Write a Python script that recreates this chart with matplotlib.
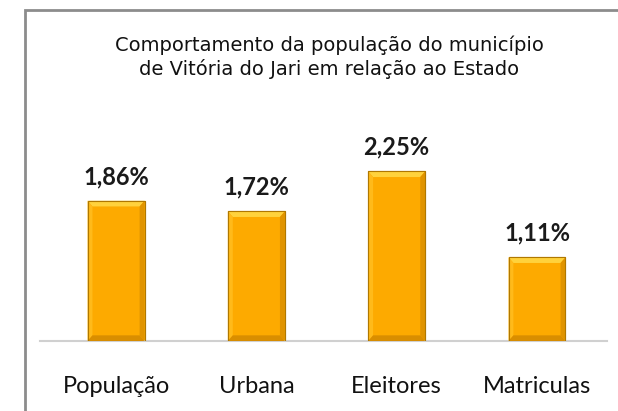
import matplotlib.pyplot as plt
from matplotlib.lines import Line2D
from matplotlib.patches import Polygon, Rectangle

categorias = ['População', 'Urbana', 'Eleitores', 'Matriculas']
valores = [1.86, 1.72, 2.25, 1.11]
rotulos = ['1,86%', '1,72%', '2,25%', '1,11%']
titulo = 'Comportamento da população do município\nde Vitória do Jari em relação ao Estado'

fig = plt.figure(figsize=(6.18, 4.11), dpi=100)
W, H = 618, 411

# moldura cinza (só aparecem os lados esquerdo e superior)
fx, fy = 24.5 / W, (H - 10) / H
fig.add_artist(Line2D([fx, fx, 1.05], [-0.05, fy, fy], transform=fig.transFigure,
                      color='#8c8c8c', linewidth=2.0, solid_joinstyle='miter'))

ax = fig.add_axes([40 / W, (H - 341) / H, 567 / W, 196 / H])
x = list(range(len(categorias)))
largura = 0.406
barras = ax.bar(x, valores, width=largura, color='#FDAA00',
                edgecolor='#C48500', linewidth=0.8, zorder=2)

ax.set_xlim(-0.542, 3.499)
ax.set_ylim(0, 2.6)

# bisel simples nas barras
bx = 0.035
by = 0.075
for b in barras:
    x0, w, h = b.get_x(), b.get_width(), b.get_height()
    x1 = x0 + w
    ax.add_patch(Polygon([(x0, h), (x1, h), (x1 - bx, h - by), (x0 + bx, h - by)],
                         closed=True, facecolor='#FFD23C', edgecolor='none', zorder=3))
    ax.add_patch(Polygon([(x0, 0), (x0 + bx, by), (x0 + bx, h - by), (x0, h)],
                         closed=True, facecolor='#FFBA1A', edgecolor='none', zorder=3))
    ax.add_patch(Polygon([(x1, 0), (x1 - bx, by), (x1 - bx, h - by), (x1, h)],
                         closed=True, facecolor='#E09400', edgecolor='none', zorder=3))
    ax.add_patch(Polygon([(x0, 0), (x1, 0), (x1 - bx, by), (x0 + bx, by)],
                         closed=True, facecolor='#D98E00', edgecolor='none', zorder=3))
    ax.add_patch(Rectangle((x0, 0), w, h, fill=False, edgecolor='#B07800',
                           linewidth=0.8, zorder=4))

for xi, v, r in zip(x, valores, rotulos):
    ax.annotate(r, (xi, v), xytext=(0, 17.5), textcoords='offset points',
                ha='center', va='center', fontsize=17, fontweight='bold',
                family='Lato', color='#1a1a1a')

ax.set_xticks(x)
ax.set_xticklabels(categorias, fontsize=17, family='Lato', color='#111111')
ax.tick_params(axis='x', length=0, pad=25)
ax.set_yticks([])
for s in ['top', 'right', 'left']:
    ax.spines[s].set_visible(False)
ax.spines['bottom'].set_color('#d0d0d0')
ax.spines['bottom'].set_linewidth(1.5)

fig.text(329 / W, (H - 57) / H, titulo, ha='center', va='center',
         fontsize=14, family='DejaVu Sans', linespacing=1.25, color='#111111')

fig.savefig('out.png', dpi=100)
